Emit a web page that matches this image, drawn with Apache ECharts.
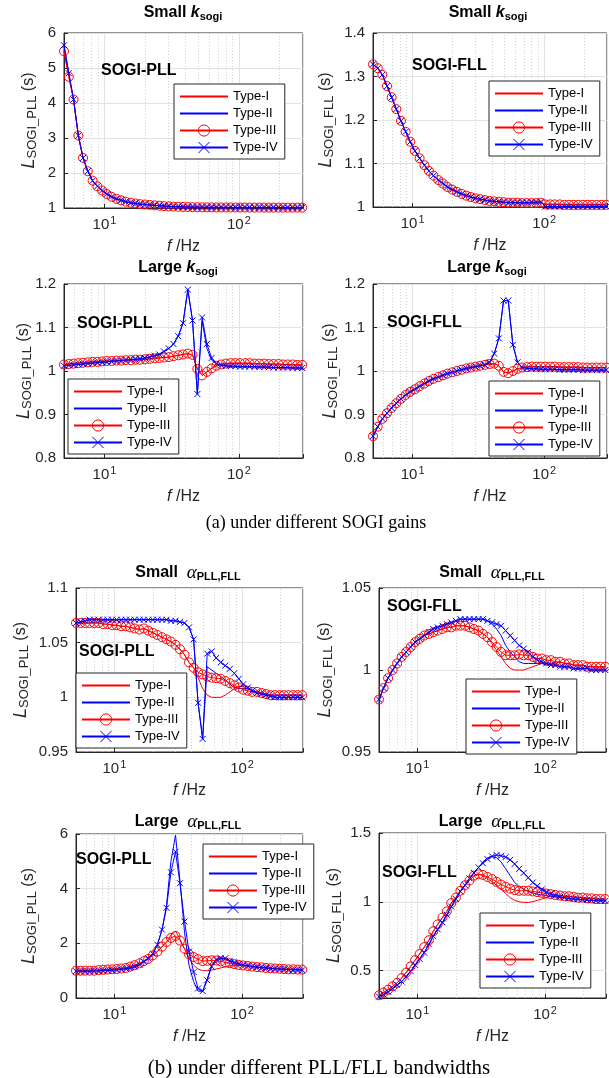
<!DOCTYPE html>
<html><head><meta charset="utf-8">
<script src="https://cdn.jsdelivr.net/npm/echarts@6/dist/echarts.min.js"></script>
<style>html,body{margin:0;padding:0;background:#fff}#c{width:609px;height:1078px}</style>
</head><body><div id="c"></div>
<script>
// ---------------- DATA ----------------
const freq = [5, 5.43, 5.89, 6.39, 6.93, 7.52, 8.16, 8.85, 9.6, 10.4,
  11.3, 12.3, 13.3, 14.4, 15.7, 17, 18.4, 20, 21.7, 23.6,
  25.6, 27.7, 30.1, 32.6, 35.4, 38.4, 41.7, 45.2, 49.1, 53.3,
  57.8, 62.7, 68, 73.8, 80.1, 86.9, 94.3, 102, 111, 120,
  131, 142, 154, 167, 181, 197, 213, 231, 251, 272,
  296];
const xMinorGrid = [6, 7, 8, 9, 20, 30, 40, 50, 60, 70, 80, 90, 200];
const yTicksLargeAlphaFLL = [0.5, 1, 1.5];
const seriesNames = ['Type-I', 'Type-II', 'Type-III', 'Type-IV'];

// (a) small k_sogi, SOGI-PLL
const pllSmallK_red = [5.48, 4.75, 4.10, 3.07, 2.43, 2.05, 1.78, 1.62, 1.50, 1.40,
  1.32, 1.26, 1.22, 1.18, 1.15, 1.13, 1.11, 1.10, 1.09, 1.075,
  1.065, 1.055, 1.047, 1.040, 1.035, 1.030, 1.027, 1.025, 1.022, 1.020,
  1.019, 1.018, 1.017, 1.016, 1.015, 1.015, 1.014, 1.014, 1.013, 1.013,
  1.012, 1.012, 1.012, 1.011, 1.011, 1.011, 1.010, 1.010, 1.010, 1.010,
  1.010];
const pllSmallK_blue = [5.65, 4.85, 4.10, 3.07, 2.43, 2.05, 1.78, 1.62, 1.50, 1.40,
  1.32, 1.26, 1.22, 1.18, 1.15, 1.13, 1.11, 1.10, 1.09, 1.075,
  1.065, 1.055, 1.047, 1.040, 1.035, 1.030, 1.027, 1.025, 1.022, 1.020,
  1.019, 1.018, 1.017, 1.016, 1.015, 1.015, 1.014, 1.014, 1.013, 1.013,
  1.012, 1.012, 1.012, 1.011, 1.011, 1.011, 1.010, 1.010, 1.010, 1.010,
  1.010];
// (a) small k_sogi, SOGI-FLL
const fllSmallK_red = [1.328, 1.319, 1.304, 1.278, 1.252, 1.225, 1.198, 1.173, 1.150, 1.129,
  1.112, 1.096, 1.083, 1.072, 1.062, 1.054, 1.046, 1.040, 1.035, 1.030,
  1.026, 1.023, 1.020, 1.018, 1.016, 1.014, 1.013, 1.012, 1.011, 1.010,
  1.010, 1.010, 1.009, 1.009, 1.009, 1.009, 1.010, 1.006, 1.006, 1.006,
  1.006, 1.005, 1.005, 1.005, 1.005, 1.005, 1.005, 1.005, 1.005, 1.005,
  1.005];
const fllSmallK_blue = [1.328, 1.319, 1.304, 1.278, 1.252, 1.225, 1.198, 1.173, 1.150, 1.129,
  1.112, 1.096, 1.083, 1.072, 1.062, 1.054, 1.046, 1.040, 1.035, 1.030,
  1.026, 1.023, 1.020, 1.018, 1.016, 1.014, 1.013, 1.012, 1.011, 1.010,
  1.010, 1.010, 1.010, 1.010, 1.011, 1.011, 1.012, 1.001, 1.001, 1.001,
  1.001, 1.001, 1.001, 1.001, 1.001, 1.001, 1.001, 1.001, 1.001, 1.001,
  1.001];
// (a) large k_sogi, SOGI-PLL
const pllLargeK_red = [1.015, 1.016, 1.017, 1.018, 1.019, 1.020, 1.021, 1.021, 1.022, 1.023,
  1.023, 1.024, 1.024, 1.025, 1.025, 1.026, 1.026, 1.027, 1.028, 1.029,
  1.030, 1.031, 1.032, 1.034, 1.036, 1.038, 1.040, 1.037, 1.005, 0.990,
  0.998, 1.006, 1.012, 1.015, 1.017, 1.018, 1.018, 1.018, 1.018, 1.018,
  1.017, 1.017, 1.017, 1.016, 1.016, 1.016, 1.015, 1.015, 1.015, 1.014,
  1.014];
const pllLargeK_II = [1.012, 1.013, 1.014, 1.015, 1.016, 1.017, 1.018, 1.019, 1.020, 1.021,
  1.022, 1.023, 1.024, 1.025, 1.026, 1.027, 1.028, 1.030, 1.032, 1.035,
  1.038, 1.045, 1.052, 1.062, 1.080, 1.110, 1.187, 1.116, 0.947, 1.115,
  1.052, 1.025, 1.017, 1.013, 1.012, 1.011, 1.011, 1.010, 1.010, 1.010,
  1.010, 1.009, 1.009, 1.009, 1.008, 1.008, 1.008, 1.008, 1.007, 1.007,
  1.007];
const pllLargeK_IV = [1.012, 1.013, 1.014, 1.015, 1.016, 1.017, 1.018, 1.019, 1.020, 1.021,
  1.022, 1.023, 1.024, 1.025, 1.026, 1.027, 1.028, 1.030, 1.032, 1.035,
  1.038, 1.045, 1.052, 1.062, 1.080, 1.110, 1.187, 1.116, 0.947, 1.123,
  1.062, 1.030, 1.017, 1.013, 1.012, 1.011, 1.011, 1.010, 1.010, 1.010,
  1.010, 1.009, 1.009, 1.009, 1.008, 1.008, 1.008, 1.008, 1.007, 1.007,
  1.007];
// (a) large k_sogi, SOGI-FLL
const fllLargeK_red = [0.850, 0.872, 0.890, 0.903, 0.915, 0.926, 0.936, 0.945, 0.952, 0.958,
  0.965, 0.971, 0.977, 0.982, 0.986, 0.990, 0.994, 0.997, 1.000, 1.003,
  1.006, 1.008, 1.010, 1.012, 1.014, 1.016, 1.017, 1.012, 0.998, 0.995,
  1.000, 1.005, 1.008, 1.009, 1.010, 1.010, 1.010, 1.010, 1.010, 1.010,
  1.009, 1.009, 1.009, 1.009, 1.009, 1.008, 1.008, 1.008, 1.008, 1.008,
  1.008];
const fllLargeK_blue = [0.850, 0.872, 0.890, 0.903, 0.915, 0.926, 0.936, 0.945, 0.952, 0.958,
  0.965, 0.971, 0.977, 0.982, 0.986, 0.990, 0.994, 0.997, 1.000, 1.003,
  1.006, 1.008, 1.010, 1.012, 1.014, 1.020, 1.040, 1.075, 1.162, 1.162,
  1.060, 1.020, 1.008, 1.006, 1.005, 1.005, 1.004, 1.004, 1.004, 1.004,
  1.003, 1.003, 1.003, 1.003, 1.003, 1.002, 1.002, 1.002, 1.002, 1.002,
  1.002];
// (b) small alpha, SOGI-PLL
const pllSmallA_I = [1.068, 1.068, 1.068, 1.068, 1.068, 1.068, 1.067, 1.067, 1.066, 1.066,
  1.065, 1.065, 1.064, 1.063, 1.062, 1.063, 1.061, 1.059, 1.057, 1.055,
  1.053, 1.051, 1.048, 1.044, 1.039, 1.032, 1.027, 1.018, 1.008, 1.002,
  1.000, 1.000, 1.000, 1.002, 1.005, 1.008, 1.010, 1.010, 1.008, 1.006,
  1.005, 1.004, 1.003, 1.002, 1.002, 1.002, 1.002, 1.002, 1.002, 1.002,
  1.002];
const pllSmallA_II = [1.068, 1.069, 1.070, 1.071, 1.071, 1.071, 1.071, 1.071, 1.071, 1.071,
  1.071, 1.071, 1.071, 1.071, 1.071, 1.071, 1.071, 1.071, 1.071, 1.071,
  1.071, 1.070, 1.070, 1.069, 1.068, 1.064, 1.053, 0.995, 0.962, 1.028,
  1.025, 1.022, 1.019, 1.016, 1.012, 1.009, 1.008, 1.008, 1.008, 1.006,
  1.004, 1.003, 1.002, 1.001, 1.000, 1.000, 1.000, 1.000, 1.000, 1.000,
  1.000];
const pllSmallA_III = [1.068, 1.068, 1.068, 1.068, 1.068, 1.068, 1.067, 1.067, 1.066, 1.066,
  1.065, 1.065, 1.064, 1.063, 1.062, 1.063, 1.061, 1.059, 1.057, 1.055,
  1.053, 1.051, 1.048, 1.044, 1.039, 1.032, 1.027, 1.023, 1.021, 1.019,
  1.018, 1.0175, 1.017, 1.015, 1.013, 1.011, 1.009, 1.007, 1.006, 1.005,
  1.005, 1.004, 1.003, 1.002, 1.002, 1.002, 1.002, 1.002, 1.002, 1.002,
  1.002];
const pllSmallA_IV = [1.068, 1.069, 1.070, 1.071, 1.071, 1.071, 1.071, 1.071, 1.071, 1.071,
  1.071, 1.071, 1.071, 1.071, 1.071, 1.071, 1.071, 1.071, 1.071, 1.071,
  1.071, 1.070, 1.070, 1.069, 1.068, 1.064, 1.053, 0.995, 0.962, 1.040,
  1.042, 1.036, 1.032, 1.029, 1.026, 1.022, 1.017, 1.012, 1.009, 1.006,
  1.004, 1.003, 1.002, 1.001, 1.000, 1.000, 1.000, 1.000, 1.000, 1.000,
  1.000];
// (b) small alpha, SOGI-FLL
const fllSmallA_I = [0.982, 0.989, 0.995, 1.000, 1.004, 1.008, 1.011, 1.014, 1.017, 1.019,
  1.021, 1.022, 1.023, 1.024, 1.025, 1.026, 1.026, 1.027, 1.027, 1.027,
  1.026, 1.025, 1.024, 1.022, 1.020, 1.016, 1.012, 1.008, 1.004, 1.001,
  1.000, 1.000, 1.000, 1.001, 1.002, 1.003, 1.004, 1.004, 1.004, 1.004,
  1.005, 1.004, 1.004, 1.003, 1.003, 1.003, 1.002, 1.002, 1.002, 1.002,
  1.002];
const fllSmallA_II = [0.982, 0.989, 0.995, 1.000, 1.004, 1.008, 1.011, 1.014, 1.017, 1.019,
  1.021, 1.023, 1.025, 1.026, 1.027, 1.028, 1.029, 1.030, 1.031, 1.031,
  1.031, 1.031, 1.031, 1.031, 1.030, 1.028, 1.025, 1.021, 1.015, 1.011,
  1.008, 1.005, 1.004, 1.004, 1.004, 1.004, 1.004, 1.003, 1.003, 1.003,
  1.002, 1.002, 1.002, 1.001, 1.001, 1.001, 1.001, 1.000, 1.000, 1.000,
  1.000];
const fllSmallA_III = [0.982, 0.989, 0.995, 1.000, 1.004, 1.008, 1.011, 1.014, 1.017, 1.019,
  1.021, 1.022, 1.023, 1.024, 1.025, 1.026, 1.026, 1.027, 1.027, 1.027,
  1.026, 1.025, 1.024, 1.022, 1.020, 1.017, 1.014, 1.011, 1.009, 1.009,
  1.009, 1.0095, 1.009, 1.009, 1.008, 1.007, 1.007, 1.006, 1.006, 1.005,
  1.005, 1.004, 1.004, 1.003, 1.003, 1.003, 1.002, 1.002, 1.002, 1.002,
  1.002];
const fllSmallA_IV = [0.982, 0.989, 0.995, 1.000, 1.004, 1.008, 1.011, 1.014, 1.017, 1.019,
  1.021, 1.023, 1.025, 1.026, 1.027, 1.028, 1.029, 1.030, 1.031, 1.031,
  1.031, 1.031, 1.031, 1.031, 1.030, 1.029, 1.028, 1.027, 1.024, 1.021,
  1.018, 1.015, 1.013, 1.011, 1.008, 1.006, 1.005, 1.004, 1.003, 1.003,
  1.002, 1.002, 1.002, 1.001, 1.001, 1.001, 1.001, 1.000, 1.000, 1.000,
  1.000];
// (b) large alpha, SOGI-PLL
const pllLargeA_I = [1.00, 1.00, 1.00, 1.00, 1.00, 1.02, 1.03, 1.04, 1.05, 1.06,
  1.08, 1.10, 1.15, 1.20, 1.27, 1.35, 1.43, 1.56, 1.70, 1.88,
  2.05, 2.30, 2.45, 2.15, 1.80, 1.45, 1.20, 1.06, 1.00, 1.00,
  1.02, 1.06, 1.10, 1.14, 1.17, 1.19, 1.19, 1.18, 1.17, 1.15,
  1.13, 1.12, 1.10, 1.09, 1.08, 1.07, 1.06, 1.05, 1.05, 1.04,
  1.04];
const pllLargeA_II = [0.98, 0.98, 0.98, 0.98, 0.99, 0.99, 1.00, 1.01, 1.02, 1.03,
  1.05, 1.07, 1.10, 1.15, 1.22, 1.33, 1.45, 1.62, 1.95, 2.50,
  3.40, 5.00, 5.96, 4.30, 2.40, 1.20, 0.60, 0.25, 0.25, 0.70,
  1.20, 1.40, 1.45, 1.42, 1.36, 1.30, 1.25, 1.21, 1.18, 1.15,
  1.13, 1.11, 1.10, 1.08, 1.07, 1.06, 1.05, 1.04, 1.03, 1.03,
  1.02];
const pllLargeA_III = [1.00, 1.00, 1.00, 1.00, 1.00, 1.02, 1.03, 1.04, 1.05, 1.06,
  1.08, 1.10, 1.15, 1.20, 1.27, 1.35, 1.43, 1.56, 1.70, 1.88,
  2.05, 2.20, 2.27, 2.10, 1.80, 1.60, 1.50, 1.42, 1.35, 1.36,
  1.38, 1.37, 1.34, 1.30, 1.27, 1.24, 1.21, 1.19, 1.17, 1.15,
  1.13, 1.12, 1.10, 1.09, 1.08, 1.07, 1.06, 1.05, 1.05, 1.04,
  1.04];
const pllLargeA_IV = [0.98, 0.98, 0.98, 0.98, 0.99, 0.99, 1.00, 1.01, 1.02, 1.03,
  1.05, 1.07, 1.10, 1.15, 1.22, 1.33, 1.45, 1.62, 1.95, 2.50,
  3.30, 4.60, 5.35, 4.20, 2.80, 1.70, 0.95, 0.35, 0.25, 0.65,
  1.15, 1.40, 1.46, 1.45, 1.36, 1.30, 1.25, 1.21, 1.18, 1.15,
  1.13, 1.11, 1.10, 1.08, 1.07, 1.06, 1.05, 1.04, 1.03, 1.03,
  1.02];
// (b) large alpha, SOGI-FLL
const fllLargeA_I = [0.320, 0.340, 0.360, 0.385, 0.410, 0.445, 0.485, 0.530, 0.575, 0.620,
  0.670, 0.720, 0.785, 0.835, 0.885, 0.930, 0.990, 1.030, 1.080, 1.120,
  1.155, 1.190, 1.200, 1.190, 1.170, 1.145, 1.120, 1.090, 1.060, 1.030,
  1.010, 1.000, 0.995, 0.995, 1.000, 1.010, 1.020, 1.030, 1.040, 1.045,
  1.045, 1.040, 1.040, 1.035, 1.030, 1.030, 1.025, 1.025, 1.020, 1.020,
  1.020];
const fllLargeA_II = [0.310, 0.325, 0.345, 0.370, 0.395, 0.420, 0.455, 0.495, 0.540, 0.585,
  0.630, 0.690, 0.750, 0.800, 0.850, 0.905, 0.965, 1.020, 1.075, 1.120,
  1.170, 1.210, 1.250, 1.290, 1.320, 1.330, 1.320, 1.290, 1.240, 1.190,
  1.140, 1.110, 1.090, 1.075, 1.065, 1.055, 1.050, 1.045, 1.040, 1.035,
  1.030, 1.028, 1.025, 1.020, 1.018, 1.015, 1.012, 1.010, 1.008, 1.007,
  1.006];
const fllLargeA_III = [0.320, 0.340, 0.360, 0.385, 0.410, 0.445, 0.485, 0.530, 0.575, 0.620,
  0.670, 0.720, 0.785, 0.835, 0.885, 0.930, 0.990, 1.030, 1.080, 1.120,
  1.155, 1.190, 1.200, 1.195, 1.180, 1.165, 1.145, 1.125, 1.110, 1.095,
  1.085, 1.080, 1.080, 1.080, 1.075, 1.070, 1.065, 1.060, 1.055, 1.050,
  1.045, 1.040, 1.040, 1.035, 1.030, 1.030, 1.025, 1.025, 1.020, 1.020,
  1.020];
const fllLargeA_IV = [0.310, 0.325, 0.345, 0.370, 0.395, 0.420, 0.455, 0.495, 0.540, 0.585,
  0.630, 0.690, 0.750, 0.800, 0.850, 0.905, 0.965, 1.020, 1.075, 1.120,
  1.170, 1.210, 1.250, 1.280, 1.310, 1.330, 1.340, 1.335, 1.325, 1.305,
  1.275, 1.240, 1.210, 1.175, 1.140, 1.115, 1.090, 1.070, 1.055, 1.045,
  1.035, 1.030, 1.025, 1.020, 1.018, 1.015, 1.012, 1.010, 1.008, 1.007,
  1.006];

const panelSeries = [
  [pllSmallK_red, pllSmallK_blue, pllSmallK_red, pllSmallK_blue],
  [fllSmallK_red, fllSmallK_blue, fllSmallK_red, fllSmallK_blue],
  [pllLargeK_red, pllLargeK_II, pllLargeK_red, pllLargeK_IV],
  [fllLargeK_red, fllLargeK_blue, fllLargeK_red, fllLargeK_blue],
  [pllSmallA_I, pllSmallA_II, pllSmallA_III, pllSmallA_IV],
  [fllSmallA_I, fllSmallA_II, fllSmallA_III, fllSmallA_IV],
  [pllLargeA_I, pllLargeA_II, pllLargeA_III, pllLargeA_IV],
  [fllLargeA_I, fllLargeA_II, fllLargeA_III, fllLargeA_IV]
];

// ---------------- LAYOUT / STYLE ----------------
const SANS = "'Liberation Sans', Arial, Helvetica, sans-serif";
const SERIF = "'Liberation Serif', 'Times New Roman', serif";
const AXC = '#262626';
const panels = [
  {grid:{left:64, top:33, width:239, height:175}, y:[1, 6, 1], size:'Small', param:'k', t:[183, 13], ann:'SOGI-PLL', a:[101, 71], leg:[174, 84], sub:'SOGI_PLL', gap:25},
  {grid:{left:373, top:33, width:234, height:174}, y:[1, 1.4, 0.1], size:'Small', param:'k', t:[488, 13], ann:'SOGI-FLL', a:[412, 66], leg:[489, 81], sub:'SOGI_FLL', gap:37},
  {grid:{left:64, top:284, width:239, height:174}, y:[0.8, 1.2, 0.1], size:'Large', param:'k', t:[178, 268], ann:'SOGI-PLL', a:[77, 324], leg:[68, 379], sub:'SOGI_PLL', gap:30},
  {grid:{left:373, top:284, width:234, height:174}, y:[0.8, 1.2, 0.1], size:'Large', param:'k', t:[487, 268], ann:'SOGI-FLL', a:[387, 323], leg:[489, 381], sub:'SOGI_FLL', gap:33},
  {grid:{left:76, top:588, width:227, height:164}, y:[0.95, 1.1, 0.05], size:'Small', param:'a', t:[188, 573], ann:'SOGI-PLL', a:[79, 652], leg:[76, 673], sub:'SOGI_PLL', gap:45},
  {grid:{left:379, top:588, width:227, height:164}, y:[0.95, 1.05, 0.05], size:'Small', param:'a', t:[492, 573], ann:'SOGI-FLL', a:[387, 607], leg:[466, 679], sub:'SOGI_FLL', gap:44},
  {grid:{left:76, top:834, width:227, height:164}, y:[0, 6, 2], size:'Large', param:'a', t:[188, 822], ann:'SOGI-PLL', a:[76, 860], leg:[203, 844], sub:'SOGI_PLL', gap:37},
  {grid:{left:379, top:833, width:227, height:165}, y:[0.3, 1.5, null], ticks:yTicksLargeAlphaFLL, size:'Large', param:'a', t:[492, 822], ann:'SOGI-FLL', a:[382, 873], leg:[480, 913], sub:'SOGI_FLL', gap:35}
];
const seriesStyle = {
  'Type-I':   {color:'#ff0000', symbol:'none', size:0},
  'Type-II':  {color:'#0000ff', symbol:'none', size:0},
  'Type-III': {color:'#ff0000', symbol:'circle', size:9},
  'Type-IV':  {color:'#0000ff', symbol:'path://M0,0L10,10M0,10L10,0', size:6}
};
const CLEAR = 'rgba(0,0,0,0)';

const chart = echarts.init(document.getElementById('c'), null, {renderer:'canvas'});
const grids = [], xAxes = [], yAxes = [], series = [], legends = [], graphics = [];

function xLabel(v) {
  const e = Math.log10(v), r = Math.round(e);
  if (Math.abs(e - r) < 1e-6 && r >= 1 && r <= 2) return '{b|10}{s|' + r + '}';
  return '';
}

panels.forEach((p, i) => {
  grids.push(Object.assign({show:true, borderColor:AXC, borderWidth:1, backgroundColor:'#fff', outerBoundsMode:'none', containLabel:false}, p.grid));
  xAxes.push({
    type:'log', logBase:10, min:5, max:300, gridIndex:i,
    axisLine:{show:true, lineStyle:{color:AXC, width:1}},
    axisTick:{show:true, inside:true, length:4, lineStyle:{color:AXC}},
    axisLabel:{formatter:xLabel, margin:7, color:AXC,
      rich:{b:{fontFamily:SANS, fontSize:15, color:AXC}, s:{fontFamily:SANS, fontSize:11, color:AXC, padding:[0,0,8,1]}}},
    splitLine:{show:true, lineStyle:{color:'#e2e2e2', width:1}},
    name:'{f|f}{h| /Hz}', nameLocation:'middle', nameGap:31, nameMoveOverlap:false,
    nameTextStyle:{rich:{f:{fontFamily:SANS, fontSize:16, fontStyle:'italic', color:AXC}, h:{fontFamily:SANS, fontSize:16, color:AXC}}}
  });
  const ya = {
    type:'value', gridIndex:i, min:p.y[0], max:p.y[1],
    axisLine:{show:true, lineStyle:{color:AXC, width:1}},
    axisTick:{show:true, inside:true, length:4, lineStyle:{color:AXC}},
    axisLabel:{color:AXC, fontFamily:SANS, fontSize:15, margin:8},
    splitLine:{show:true, lineStyle:{color:'#e2e2e2', width:1}},
    name:'{L|L}{s|' + p.sub + '}{p| (s)}', nameLocation:'middle', nameRotate:90, nameGap:p.gap, nameMoveOverlap:false,
    nameTextStyle:{rich:{
      L:{fontFamily:SANS, fontSize:18, fontStyle:'italic', color:AXC},
      s:{fontFamily:SANS, fontSize:13, color:AXC, padding:[8,0,0,0]},
      p:{fontFamily:SANS, fontSize:16, color:AXC}}}
  };
  if (p.y[2] != null) ya.interval = p.y[2];
  if (p.ticks) { ya.axisLabel.customValues = p.ticks; ya.axisTick.customValues = p.ticks; }
  yAxes.push(ya);

  seriesNames.forEach((name, j) => {
    const st = seriesStyle[name];
    const vals = panelSeries[i][j];
    const s = {
      type:'line', name, xAxisIndex:i, yAxisIndex:i,
      data: freq.map((f, k) => [f, vals[k]]),
      symbol: st.symbol, symbolSize: st.size, showSymbol: st.symbol !== 'none',
      lineStyle:{color:st.color, width:1},
      itemStyle:{color:CLEAR, borderColor: st.symbol === 'none' ? CLEAR : st.color, borderWidth:1},
      silent:true, animation:false, clip:true, emphasis:{disabled:true}, z:2 + j * 0.01
    };
    if (j === 0) {
      s.markLine = {silent:true, symbol:['none','none'], label:{show:false}, animation:false, z:1,
        lineStyle:{color:'#d2d2d2', type:[1,2], width:1}, emphasis:{disabled:true},
        data: xMinorGrid.map(v => ({xAxis:v}))};
    }
    series.push(s);
  });

  legends.push({
    data: seriesNames.slice(), orient:'vertical', left:p.leg[0], top:p.leg[1],
    itemWidth:48, itemHeight:14, itemGap:4, padding:[6,7,5,5],
    borderColor:AXC, borderWidth:1, backgroundColor:'#fff', selectedMode:false,
    itemStyle:{borderWidth:1},
    textStyle:{fontFamily:SANS, fontSize:13, color:'#000'}
  });

  // titles
  const titleText = p.param === 'k' ? '{a|' + p.size + ' }{k|k}{s|sogi}' : '{a|' + p.size + '  }{g|α}{s|PLL,FLL}';
  graphics.push({type:'text', x:p.t[0], y:p.t[1], z:100, silent:true, style:{
    text:titleText, align:'center', verticalAlign:'middle', fill:'#000',
    rich:{a:{fontFamily:SANS, fontSize:16, fontWeight:'bold', fill:'#000'},
          k:{fontFamily:SANS, fontSize:16, fontWeight:'bold', fontStyle:'italic', fill:'#000'},
          g:{fontFamily:SERIF, fontSize:19, fontStyle:'italic', fill:'#000'},
          s:{fontFamily:SANS, fontSize:11, fontWeight:'bold', fill:'#000', padding:[8,0,0,0]}}}});
  graphics.push({type:'text', x:p.a[0], y:p.a[1], z:100, silent:true, style:{
    text:p.ann, align:'left', verticalAlign:'middle', fill:'#000',
    font:'bold 16px ' + SANS}});
});

graphics.push({type:'text', x:316, y:523, z:100, silent:true, style:{text:'(a) under different SOGI gains', align:'center', verticalAlign:'middle', fill:'#000', font:'18px ' + SERIF}});
graphics.push({type:'text', x:319, y:1068, z:100, silent:true, style:{text:'(b) under different PLL/FLL bandwidths', align:'center', verticalAlign:'middle', fill:'#000', font:'21px ' + SERIF}});

chart.setOption({
  animation:false,
  backgroundColor:'#fff',
  grid:grids, xAxis:xAxes, yAxis:yAxes, series, legend:legends, graphic:graphics
});
</script></body></html>
